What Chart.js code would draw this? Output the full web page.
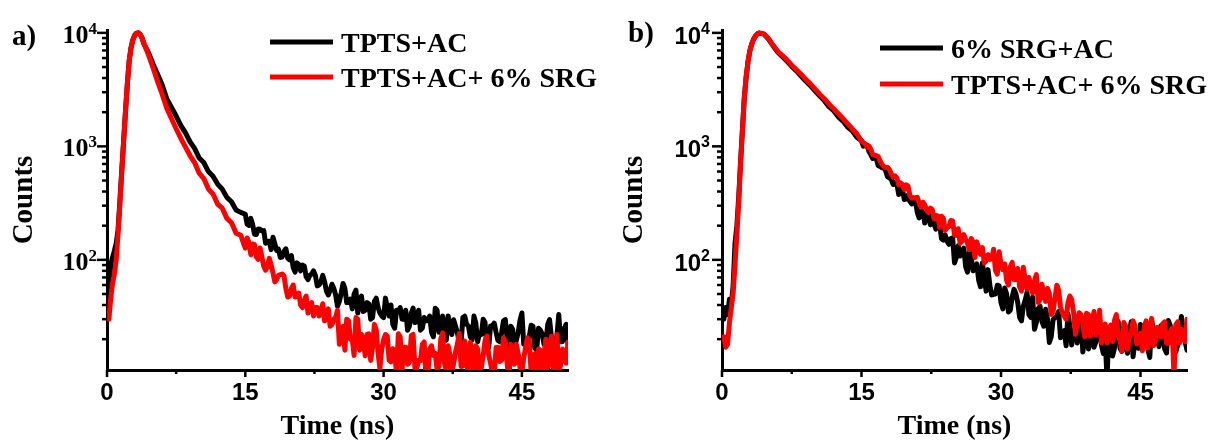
<!DOCTYPE html>
<html>
<head>
<meta charset="utf-8">
<script src="https://cdn.jsdelivr.net/npm/chart.js@4.4.1/dist/chart.umd.min.js"></script>
<style>
  html, body { margin: 0; padding: 0; background: #fff; }
  #wrap { position: relative; width: 1210px; height: 441px; }
  canvas { position: absolute; top: 0; }
  #chartA { left: 0; }
  #chartB { left: 605px; }
</style>
</head>
<body>
<div id="wrap">
  <canvas id="chartA" width="605" height="441"></canvas>
  <canvas id="chartB" width="605" height="441"></canvas>
</div>
<script>
// time axis (ns), shared by every series
const timeNs = [
  0.2, 0.4, 0.6, 0.8, 1.0, 1.2, 1.4, 1.6, 1.8, 2.0, 2.2, 2.4, 2.6, 2.8, 3.0, 3.2, 3.4, 3.6, 3.8, 4.0,
  4.5, 5.0, 5.5, 6.0, 6.5, 7.0, 7.5, 8.0, 8.5, 9.0, 9.5, 10.0, 10.5, 11.0, 11.5, 12.0, 12.5, 13.0, 13.5, 14.0, 14.5,
  15.0, 15.4, 15.8, 16.2, 16.6, 17.0, 17.4, 17.8, 18.2, 18.6, 19.0, 19.4, 19.8, 20.2, 20.6, 21.0, 21.4, 21.8, 22.2, 22.6,
  23.0, 23.4, 23.8, 24.2, 24.6, 25.0, 25.4, 25.8, 26.2, 26.6, 27.0, 27.4, 27.8, 28.2, 28.6, 29.0, 29.4, 29.8, 30.2, 30.6,
  31.0, 31.4, 31.8, 32.2, 32.6, 33.0, 33.4, 33.8, 34.2, 34.6, 35.0, 35.4, 35.8, 36.2, 36.6, 37.0, 37.4, 37.8, 38.2, 38.6,
  39.0, 39.4, 39.8, 40.2, 40.6, 41.0, 41.4, 41.8, 42.2, 42.6, 43.0, 43.4, 43.8, 44.2, 44.6, 45.0, 45.4, 45.8, 46.2, 46.6,
  47.0, 47.4, 47.8, 48.2, 48.6, 49.0, 49.4, 49.8, 50.0
];
// extra samples in the noisy tail, between the ones above
const timeNsMid = [
  15.2, 15.6, 16.0, 16.4, 16.8, 17.2, 17.6, 18.0, 18.4, 18.8, 19.2, 19.6, 20.0, 20.4, 20.8, 21.2, 21.6, 22.0, 22.4, 22.8,
  23.2, 23.6, 24.0, 24.4, 24.8, 25.2, 25.6, 26.0, 26.4, 26.8, 27.2, 27.6, 28.0, 28.4, 28.8, 29.2, 29.6, 30.0, 30.4, 30.8,
  31.2, 31.6, 32.0, 32.4, 32.8, 33.2, 33.6, 34.0, 34.4, 34.8, 35.2, 35.6, 36.0, 36.4, 36.8, 37.2, 37.6, 38.0, 38.4, 38.8,
  39.2, 39.6, 40.0, 40.4, 40.8, 41.2, 41.6, 42.0, 42.4, 42.8, 43.2, 43.6, 44.0, 44.4, 44.8, 45.2, 45.6, 46.0, 46.4, 46.8,
  47.2, 47.6, 48.0, 48.4, 48.8, 49.2, 49.6
];

// panel a) TPTS+AC (black)
const tptsAc = [
  50, 90, 105, 120, 140, 185, 330, 610, 1100, 2000, 3500, 5600, 7400, 8700, 9500, 9950, 10000, 9700, 9000, 8000,
  6700, 5300, 4300, 3450, 2600, 2200, 1850, 1530, 1320, 1100, 960, 790, 720, 600, 545, 465, 420, 355, 325, 275, 262,
  252, 201, 204, 167, 186, 181, 145, 123, 139, 124, 106, 125, 100, 85, 94, 80, 88, 67, 75, 73,
  60, 73, 53, 54, 56, 39, 51, 56, 42, 37, 54, 43, 35, 42, 30, 43, 38, 32, 46, 32,
  27, 36, 38, 30, 24, 34, 28, 36, 25, 29, 32, 21, 36, 23, 25, 32, 22, 26, 19, 31,
  27, 21, 32, 19, 22, 28, 17, 26, 23, 19, 29, 20, 26, 17, 23, 34, 19, 21, 26, 16,
  24, 18, 27, 21, 16, 33, 19, 27, 18
];
const tptsAcMid = [
  206, 232, 168, 187, 180, 140, 146, 158, 121, 105, 119, 103, 109, 78, 91, 90, 71, 73, 80, 59,
  64, 64, 49, 61, 49, 43, 62, 42, 45, 50, 34, 48, 36, 41, 31, 46, 34, 31, 38, 40,
  25, 35, 30, 36, 26, 37.5, 29, 24, 31, 29, 23, 37.5, 23, 32, 19.6, 26, 29.6, 22.8, 18.4, 31.9,
  26.2, 19.7, 27.7, 22.7, 29.9, 16.9, 26.1, 27.7, 19.5, 22.7, 29.7, 17.6, 24.3, 19.6, 29.5, 18.1, 20.1, 26.5, 16.7, 25,
  22.3, 18.4, 29.7, 17, 21.4, 19, 24.9
];
// panel a) TPTS+AC+ 6% SRG (red)
const tptsAcSrgA = [
  30, 45, 62, 75, 100, 170, 316, 600, 1100, 2000, 3500, 5600, 7300, 8600, 9500, 9950, 10000, 9700, 9000, 8100,
  6400, 4900, 3700, 2850, 2150, 1750, 1430, 1180, 990, 830, 720, 580, 520, 420, 380, 310, 285, 232, 212, 172, 165,
  127, 142, 138, 106, 127, 88, 88, 90, 64, 73, 75, 56, 48, 60, 48, 40, 44, 34, 42, 38,
  32, 41, 30, 26, 30, 36, 24, 16, 29, 20, 31, 16, 20, 22, 13, 27, 15, 16.5, 22, 13,
  16.5, 10, 21, 17, 12, 21.5, 11, 13, 18, 8.7, 16.4, 14.4, 10.8, 20, 12.3, 17.5, 10.1, 15.4, 22.4, 11.6,
  13.1, 18.7, 9.5, 16.4, 11.2, 19.3, 14.4, 9.8, 16.9, 12.7, 20.6, 12, 18, 12, 14.9, 10.4, 16.9, 19.8, 12.7, 9.5,
  15.9, 14.4, 11.2, 21.2, 13.1, 10.1, 16.4, 12.3, 18.8
];
const tptsAcSrgAMid = [
  156, 111, 136, 101, 106, 81, 103, 77, 67, 74, 72, 47, 56, 47, 51, 38, 48, 38.6, 32, 38,
  35, 29, 37, 27, 31, 18, 26, 30, 20, 14.4, 29.9, 22, 14.3, 22.3, 16.9, 24.3, 11, 19.7, 21.2, 12.6,
  15.4, 22.3, 10.8, 17, 12.5, 22, 11.1, 12.9, 18.9, 9.8, 17.5, 15, 11.5, 22.7, 10.5, 14.5, 12.3, 18, 11.5, 19.3,
  9.5, 15.4, 17.5, 10.5, 14.4, 21.3, 12.3, 9.8, 17, 13.1, 18.8, 9, 16, 18, 11.2, 13.6, 20.6, 10.1, 14.9, 16.4,
  9.2, 20, 12.7, 10.8, 22, 11.9, 14
];
// panel b) 6% SRG+AC (black)
const srgAc = [
  30, 38, 33, 45, 40, 60, 140, 200, 360, 740, 1420, 2700, 4100, 5600, 7000, 8000, 8800, 9400, 9800, 9950,
  9750, 8810, 7670, 6760, 6170, 5620, 5070, 4620, 4170, 3760, 3430, 3090, 2790, 2530, 2240, 2060, 1820, 1670, 1480, 1370, 1200,
  1118, 1040, 903, 782, 773, 667, 649, 541, 514, 481, 376, 420, 343, 328, 339, 262, 272, 211, 257, 224,
  186, 207, 149, 146, 154, 94, 133, 113, 87, 117, 80, 92, 58, 70, 82, 49, 50, 59, 37, 50,
  36, 55, 42, 29, 44, 33, 47, 28, 39, 26, 30, 21, 31, 35, 23, 17.5, 26.5, 24, 18.5, 31.6,
  20.8, 16.4, 24.6, 18.9, 26.4, 15, 9, 24, 16.7, 28.7, 15.6, 19, 23.4, 14, 21.4, 26.9, 17.9, 16.2, 29.2, 21.5,
  17.2, 23.5, 15.1, 26.3, 22.9, 17.8, 31.7, 18.9, 16
];
const srgAcMid = [
  1006, 1023, 846, 823, 677, 649, 608, 527, 461, 470, 424, 340, 372, 311, 331, 234, 270, 261, 204, 207,
  218, 154, 166, 137, 156, 105, 108, 127, 78, 104, 86, 66, 94, 53, 59.7, 49.7, 59.8, 42, 56.6, 34.7,
  46.9, 50.2, 31.2, 39, 51.8, 31.2, 24.4, 37.2, 28.7, 36.7, 18.7, 29.7, 32, 20.6, 23.8, 33.4, 17.8, 24.3, 25.6, 15.4,
  29.5, 19.8, 17, 30.6, 17.7, 20.1, 24.1, 14.2, 25, 16.6, 21.3, 15, 28.5, 19.1, 16.6, 24.2, 27.3, 13.8, 23.5, 19.3,
  26.3, 16.4, 29.2, 20.5, 15.5, 24.2, 22.2
];
// panel b) TPTS+AC+ 6% SRG (red)
const tptsAcSrgB = [
  21, 17, 18, 28, 38, 52, 90, 170, 330, 720, 1400, 2700, 4100, 5600, 7000, 8000, 8800, 9400, 9800, 10000,
  9800, 8910, 7760, 6840, 6310, 5750, 5190, 4730, 4315, 3890, 3550, 3200, 2880, 2630, 2370, 2140, 1950, 1760, 1585, 1430, 1290,
  1113, 1048, 1005, 846, 827, 744, 665, 655, 574, 550, 457, 461, 459, 370, 354, 356, 291, 306, 262, 278,
  246, 194, 233, 192, 222, 166, 188, 147, 152, 123, 144, 144, 112, 94, 111, 102, 81, 118, 82, 66,
  87, 67, 84, 53, 67, 70, 51, 74, 45, 49, 56, 33, 46, 54, 34, 30, 48, 34.5, 26.6, 33,
  21, 33, 28, 21.9, 36, 22, 18.6, 26.6, 29.2, 21.8, 15.7, 26.2, 20.4, 29, 18.1, 22.5, 25.6, 16.7, 30.5, 19.4,
  21.5, 27.4, 18.4, 23.1, 9.5, 28.4, 24.4, 19, 30
];
const tptsAcSrgBMid = [
  1080, 984, 947, 838, 812, 693, 650, 625, 538, 525, 477, 417, 445, 349, 349, 316, 322, 274, 286, 231,
  244, 242, 182, 197, 220, 164, 140, 167, 140, 154, 105, 127, 128, 98, 101, 124, 75, 91, 92, 60,
  95, 67, 58, 86, 55, 59, 65.5, 42, 61, 43, 50.7, 35, 59.8, 38.5, 31.9, 42, 44.5, 22.1, 34.2, 27.2,
  33.8, 21.2, 35, 24.5, 18.6, 27.2, 24.9, 19.1, 32.9, 19.4, 28, 16.3, 22.6, 26.2, 19.8, 15.8, 29, 23.8, 17.6, 25.5,
  20.9, 28.4, 18.4, 24.9, 26.8, 18.5, 22
];

const labelsA = ['TPTS+AC', 'TPTS+AC+ 6% SRG'];
const labelsB = ['6% SRG+AC', 'TPTS+AC+ 6% SRG'];
const xTitle = 'Time (ns)';
const yTitle = 'Counts';

const serif = "'Liberation Serif', 'Times New Roman', serif";
const sans = "'Liberation Sans', Arial, sans-serif";

function points(values, midValues) {
  const pts = timeNs.map((t, i) => ({ x: t, y: values[i] }));
  timeNsMid.forEach((t, i) => pts.push({ x: t, y: midValues[i] }));
  return pts.sort((a, b) => a.x - b.x);
}

function isPow10(v) {
  const e = Math.round(Math.log10(v));
  return Math.abs(v - Math.pow(10, e)) < 1e-6 * v;
}

function isLogTick(v) {
  const p = Math.pow(10, Math.floor(Math.log10(v) + 1e-9));
  const s = v / p;
  return Math.abs(s - Math.round(s)) < 1e-6;
}

// ticks, 10^n labels, panel tag and legend drawn on top of the chart
const decorPlugin = {
  id: 'decor',
  afterDraw(chart, args, opts) {
    const ctx = chart.ctx;
    const x = chart.scales.x, y = chart.scales.y;
    ctx.save();
    ctx.strokeStyle = '#000';
    ctx.lineWidth = 2.5;
    x.ticks.forEach(t => {
      const px = x.getPixelForValue(t.value);
      const len = t.value % 15 === 0 ? 7 : 4;
      ctx.beginPath(); ctx.moveTo(px, x.top); ctx.lineTo(px, x.top + len); ctx.stroke();
    });
    y.ticks.forEach(t => {
      const py = y.getPixelForValue(t.value);
      const len = isPow10(t.value) ? 10 : 5;
      ctx.beginPath(); ctx.moveTo(y.right, py); ctx.lineTo(y.right - len, py); ctx.stroke();
    });

    ctx.fillStyle = '#000';
    ctx.textBaseline = 'alphabetic';
    ctx.textAlign = 'right';
    y.ticks.filter(t => isPow10(t.value)).forEach(t => {
      const py = y.getPixelForValue(t.value);
      const exp = String(Math.round(Math.log10(t.value)));
      ctx.font = 'bold ' + opts.expSize + 'px ' + opts.tickFamily;
      const ew = ctx.measureText(exp).width;
      ctx.fillText(exp, opts.labelRight, py + 1);
      ctx.font = 'bold ' + opts.baseSize + 'px ' + opts.tickFamily;
      ctx.fillText('10', opts.labelRight - ew, py + opts.baseDy);
    });

    ctx.textAlign = 'left';
    ctx.font = 'bold 29px ' + serif;
    ctx.fillText(opts.tag, opts.tagX, opts.tagY);

    ctx.font = 'bold 28px ' + serif;
    chart.data.datasets.forEach((ds, i) => {
      const ly = opts.legendY[i];
      ctx.strokeStyle = ds.borderColor;
      ctx.lineWidth = 5;
      ctx.beginPath(); ctx.moveTo(opts.legendX, ly); ctx.lineTo(opts.legendX + 63, ly); ctx.stroke();
      ctx.fillText(ds.label, opts.legendX + 71, ly + 10);
    });
    ctx.restore();
  }
};

function makeChart(id, black, red, labels, cfg) {
  return new Chart(document.getElementById(id), {
    type: 'line',
    data: {
      datasets: [
        { label: labels[0], data: points(black[0], black[1]), borderColor: '#000000', order: 2 },
        { label: labels[1], data: points(red[0], red[1]), borderColor: '#ff0000', order: 1 }
      ]
    },
    options: {
      responsive: false,
      animation: false,
      devicePixelRatio: 1,
      layout: { padding: { left: 0, top: 30, right: cfg.padRight, bottom: 0 } },
      elements: {
        point: { radius: 0 },
        line: { borderWidth: 5, borderJoinStyle: 'round', borderCapStyle: 'round', tension: 0, fill: false }
      },
      plugins: {
        legend: { display: false },
        tooltip: { enabled: false },
        decor: cfg.decor
      },
      scales: {
        x: {
          type: 'linear',
          min: 0,
          max: 50,
          afterBuildTicks: s => {
            s.ticks = s.ticks.filter(t => Math.abs(t.value / 7.5 - Math.round(t.value / 7.5)) < 1e-6);
          },
          afterFit: s => { s.height = 71; },
          ticks: {
            stepSize: 7.5,
            autoSkip: false,
            maxRotation: 0,
            padding: 3,
            color: '#000',
            font: { family: sans, weight: 'bold', size: 24 },
            callback: v => (v % 15 === 0 ? String(v) : '')
          },
          grid: { display: false, drawTicks: true, tickLength: 6 },
          border: { display: true, color: '#000', width: 3 },
          title: {
            display: true, text: xTitle, color: '#000', padding: 0,
            font: { family: serif, weight: 'bold', size: 28, lineHeight: 1 }
          }
        },
        y: {
          type: 'logarithmic',
          min: 10.7,
          max: 10600,
          afterBuildTicks: s => { s.ticks = s.ticks.filter(t => isLogTick(t.value)); },
          afterFit: s => { s.width = cfg.yWidth; },
          ticks: { display: false, autoSkip: false },
          grid: { display: false, drawTicks: true, tickLength: 9 },
          border: { display: true, color: '#000', width: 3 },
          title: {
            display: true, text: yTitle, color: '#000', padding: { top: cfg.yTitlePad, bottom: 0 },
            font: { family: serif, weight: 'bold', size: 29, lineHeight: 1 }
          }
        }
      }
    },
    plugins: [decorPlugin]
  });
}

makeChart('chartA', [tptsAc, tptsAcMid], [tptsAcSrgA, tptsAcSrgAMid], labelsA, {
  padRight: 37, yWidth: 107, yTitlePad: 10,
  decor: {
    tag: 'a)', tagX: 12, tagY: 45, legendX: 270, legendY: [42, 77],
    tickFamily: serif, baseSize: 26, expSize: 17, baseDy: 10, labelRight: 97
  }
});

makeChart('chartB', [srgAc, srgAcMid], [tptsAcSrgB, tptsAcSrgBMid], labelsB, {
  padRight: 23, yWidth: 117, yTitlePad: 15,
  decor: {
    tag: 'b)', tagX: 23, tagY: 42, legendX: 275, legendY: [48, 84],
    tickFamily: sans, baseSize: 24, expSize: 16, baseDy: 11, labelRight: 105
  }
});
</script>
</body>
</html>
